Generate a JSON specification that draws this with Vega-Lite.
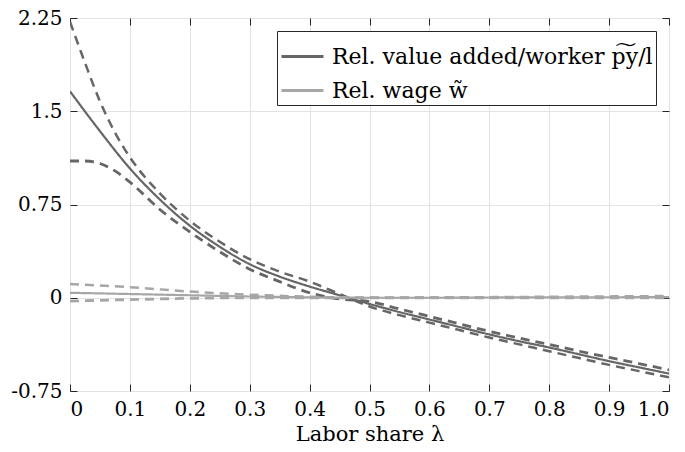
{
  "$schema": "https://vega.github.io/schema/vega-lite/v6.json",
  "width": 599,
  "height": 373,
  "autosize": {"type": "none"},
  "padding": {"left": 70, "top": 18, "right": 16, "bottom": 61},
  "background": "white",
  "config": {
    "font": "DejaVu Serif",
    "view": {"stroke": "#262626", "strokeWidth": 1},
    "axis": {
      "domain": false,
      "tickColor": "#262626",
      "tickSize": -7,
      "tickWidth": 1,
      "labelFont": "DejaVu Serif",
      "labelFontSize": 20,
      "labelColor": "#000000",
      "gridColor": "#e3e3e3",
      "gridWidth": 1,
      "titleFont": "DejaVu Serif",
      "titleFontSize": 21,
      "titleFontWeight": "normal",
      "titleColor": "#000000"
    },
    "legend": {
      "orient": "top-right",
      "offset": 13,
      "fillColor": "white",
      "strokeColor": "#262626",
      "padding": 3,
      "symbolType": "stroke",
      "symbolSize": 1764,
      "symbolStrokeWidth": 3,
      "labelFont": "DejaVu Serif",
      "labelFontSize": 22,
      "labelColor": "#000000",
      "labelOffset": 7,
      "labelLimit": 500,
      "rowPadding": -14
    }
  },
  "datasets": {
    "curves": [
      {"lambda": 0.0, "value": 1.66, "series": "Rel. value added/worker p͠y/l", "case": "baseline"},
      {"lambda": 0.05, "value": 1.34, "series": "Rel. value added/worker p͠y/l", "case": "baseline"},
      {"lambda": 0.1, "value": 1.04, "series": "Rel. value added/worker p͠y/l", "case": "baseline"},
      {"lambda": 0.15, "value": 0.79, "series": "Rel. value added/worker p͠y/l", "case": "baseline"},
      {"lambda": 0.2, "value": 0.58, "series": "Rel. value added/worker p͠y/l", "case": "baseline"},
      {"lambda": 0.25, "value": 0.41, "series": "Rel. value added/worker p͠y/l", "case": "baseline"},
      {"lambda": 0.3, "value": 0.27, "series": "Rel. value added/worker p͠y/l", "case": "baseline"},
      {"lambda": 0.35, "value": 0.17, "series": "Rel. value added/worker p͠y/l", "case": "baseline"},
      {"lambda": 0.4, "value": 0.09, "series": "Rel. value added/worker p͠y/l", "case": "baseline"},
      {"lambda": 0.45, "value": 0.02, "series": "Rel. value added/worker p͠y/l", "case": "baseline"},
      {"lambda": 0.5, "value": -0.05, "series": "Rel. value added/worker p͠y/l", "case": "baseline"},
      {"lambda": 0.55, "value": -0.115, "series": "Rel. value added/worker p͠y/l", "case": "baseline"},
      {"lambda": 0.6, "value": -0.175, "series": "Rel. value added/worker p͠y/l", "case": "baseline"},
      {"lambda": 0.65, "value": -0.235, "series": "Rel. value added/worker p͠y/l", "case": "baseline"},
      {"lambda": 0.7, "value": -0.295, "series": "Rel. value added/worker p͠y/l", "case": "baseline"},
      {"lambda": 0.75, "value": -0.35, "series": "Rel. value added/worker p͠y/l", "case": "baseline"},
      {"lambda": 0.8, "value": -0.4, "series": "Rel. value added/worker p͠y/l", "case": "baseline"},
      {"lambda": 0.85, "value": -0.455, "series": "Rel. value added/worker p͠y/l", "case": "baseline"},
      {"lambda": 0.9, "value": -0.51, "series": "Rel. value added/worker p͠y/l", "case": "baseline"},
      {"lambda": 0.95, "value": -0.56, "series": "Rel. value added/worker p͠y/l", "case": "baseline"},
      {"lambda": 1.0, "value": -0.61, "series": "Rel. value added/worker p͠y/l", "case": "baseline"},

      {"lambda": 0.0, "value": 2.22, "series": "Rel. value added/worker p͠y/l", "case": "upper"},
      {"lambda": 0.025, "value": 1.89, "series": "Rel. value added/worker p͠y/l", "case": "upper"},
      {"lambda": 0.05, "value": 1.58, "series": "Rel. value added/worker p͠y/l", "case": "upper"},
      {"lambda": 0.075, "value": 1.33, "series": "Rel. value added/worker p͠y/l", "case": "upper"},
      {"lambda": 0.1, "value": 1.13, "series": "Rel. value added/worker p͠y/l", "case": "upper"},
      {"lambda": 0.15, "value": 0.84, "series": "Rel. value added/worker p͠y/l", "case": "upper"},
      {"lambda": 0.2, "value": 0.62, "series": "Rel. value added/worker p͠y/l", "case": "upper"},
      {"lambda": 0.25, "value": 0.45, "series": "Rel. value added/worker p͠y/l", "case": "upper"},
      {"lambda": 0.3, "value": 0.31, "series": "Rel. value added/worker p͠y/l", "case": "upper"},
      {"lambda": 0.35, "value": 0.21, "series": "Rel. value added/worker p͠y/l", "case": "upper"},
      {"lambda": 0.4, "value": 0.13, "series": "Rel. value added/worker p͠y/l", "case": "upper"},
      {"lambda": 0.45, "value": 0.03, "series": "Rel. value added/worker p͠y/l", "case": "upper"},
      {"lambda": 0.5, "value": -0.07, "series": "Rel. value added/worker p͠y/l", "case": "upper"},
      {"lambda": 0.55, "value": -0.14, "series": "Rel. value added/worker p͠y/l", "case": "upper"},
      {"lambda": 0.6, "value": -0.2, "series": "Rel. value added/worker p͠y/l", "case": "upper"},
      {"lambda": 0.65, "value": -0.26, "series": "Rel. value added/worker p͠y/l", "case": "upper"},
      {"lambda": 0.7, "value": -0.32, "series": "Rel. value added/worker p͠y/l", "case": "upper"},
      {"lambda": 0.75, "value": -0.375, "series": "Rel. value added/worker p͠y/l", "case": "upper"},
      {"lambda": 0.8, "value": -0.43, "series": "Rel. value added/worker p͠y/l", "case": "upper"},
      {"lambda": 0.85, "value": -0.485, "series": "Rel. value added/worker p͠y/l", "case": "upper"},
      {"lambda": 0.9, "value": -0.54, "series": "Rel. value added/worker p͠y/l", "case": "upper"},
      {"lambda": 0.95, "value": -0.59, "series": "Rel. value added/worker p͠y/l", "case": "upper"},
      {"lambda": 1.0, "value": -0.64, "series": "Rel. value added/worker p͠y/l", "case": "upper"},

      {"lambda": 0.0, "value": 1.1, "series": "Rel. value added/worker p͠y/l", "case": "lower"},
      {"lambda": 0.025, "value": 1.1, "series": "Rel. value added/worker p͠y/l", "case": "lower"},
      {"lambda": 0.05, "value": 1.08, "series": "Rel. value added/worker p͠y/l", "case": "lower"},
      {"lambda": 0.075, "value": 1.02, "series": "Rel. value added/worker p͠y/l", "case": "lower"},
      {"lambda": 0.1, "value": 0.93, "series": "Rel. value added/worker p͠y/l", "case": "lower"},
      {"lambda": 0.15, "value": 0.71, "series": "Rel. value added/worker p͠y/l", "case": "lower"},
      {"lambda": 0.2, "value": 0.53, "series": "Rel. value added/worker p͠y/l", "case": "lower"},
      {"lambda": 0.25, "value": 0.37, "series": "Rel. value added/worker p͠y/l", "case": "lower"},
      {"lambda": 0.3, "value": 0.23, "series": "Rel. value added/worker p͠y/l", "case": "lower"},
      {"lambda": 0.35, "value": 0.13, "series": "Rel. value added/worker p͠y/l", "case": "lower"},
      {"lambda": 0.4, "value": 0.04, "series": "Rel. value added/worker p͠y/l", "case": "lower"},
      {"lambda": 0.45, "value": -0.01, "series": "Rel. value added/worker p͠y/l", "case": "lower"},
      {"lambda": 0.5, "value": -0.03, "series": "Rel. value added/worker p͠y/l", "case": "lower"},
      {"lambda": 0.55, "value": -0.09, "series": "Rel. value added/worker p͠y/l", "case": "lower"},
      {"lambda": 0.6, "value": -0.15, "series": "Rel. value added/worker p͠y/l", "case": "lower"},
      {"lambda": 0.65, "value": -0.21, "series": "Rel. value added/worker p͠y/l", "case": "lower"},
      {"lambda": 0.7, "value": -0.27, "series": "Rel. value added/worker p͠y/l", "case": "lower"},
      {"lambda": 0.75, "value": -0.325, "series": "Rel. value added/worker p͠y/l", "case": "lower"},
      {"lambda": 0.8, "value": -0.375, "series": "Rel. value added/worker p͠y/l", "case": "lower"},
      {"lambda": 0.85, "value": -0.43, "series": "Rel. value added/worker p͠y/l", "case": "lower"},
      {"lambda": 0.9, "value": -0.48, "series": "Rel. value added/worker p͠y/l", "case": "lower"},
      {"lambda": 0.95, "value": -0.53, "series": "Rel. value added/worker p͠y/l", "case": "lower"},
      {"lambda": 1.0, "value": -0.58, "series": "Rel. value added/worker p͠y/l", "case": "lower"},

      {"lambda": 0.0, "value": 0.04, "series": "Rel. wage w̃", "case": "baseline"},
      {"lambda": 0.1, "value": 0.03, "series": "Rel. wage w̃", "case": "baseline"},
      {"lambda": 0.2, "value": 0.02, "series": "Rel. wage w̃", "case": "baseline"},
      {"lambda": 0.3, "value": 0.01, "series": "Rel. wage w̃", "case": "baseline"},
      {"lambda": 0.4, "value": 0.003, "series": "Rel. wage w̃", "case": "baseline"},
      {"lambda": 0.5, "value": 0.0, "series": "Rel. wage w̃", "case": "baseline"},
      {"lambda": 0.6, "value": 0.0, "series": "Rel. wage w̃", "case": "baseline"},
      {"lambda": 0.7, "value": 0.002, "series": "Rel. wage w̃", "case": "baseline"},
      {"lambda": 0.8, "value": 0.003, "series": "Rel. wage w̃", "case": "baseline"},
      {"lambda": 0.9, "value": 0.004, "series": "Rel. wage w̃", "case": "baseline"},
      {"lambda": 1.0, "value": 0.005, "series": "Rel. wage w̃", "case": "baseline"},

      {"lambda": 0.0, "value": 0.11, "series": "Rel. wage w̃", "case": "upper"},
      {"lambda": 0.1, "value": 0.085, "series": "Rel. wage w̃", "case": "upper"},
      {"lambda": 0.2, "value": 0.05, "series": "Rel. wage w̃", "case": "upper"},
      {"lambda": 0.3, "value": 0.025, "series": "Rel. wage w̃", "case": "upper"},
      {"lambda": 0.4, "value": 0.008, "series": "Rel. wage w̃", "case": "upper"},
      {"lambda": 0.5, "value": 0.0, "series": "Rel. wage w̃", "case": "upper"},
      {"lambda": 0.6, "value": 0.002, "series": "Rel. wage w̃", "case": "upper"},
      {"lambda": 0.7, "value": 0.005, "series": "Rel. wage w̃", "case": "upper"},
      {"lambda": 0.8, "value": 0.008, "series": "Rel. wage w̃", "case": "upper"},
      {"lambda": 0.9, "value": 0.011, "series": "Rel. wage w̃", "case": "upper"},
      {"lambda": 1.0, "value": 0.014, "series": "Rel. wage w̃", "case": "upper"},

      {"lambda": 0.0, "value": -0.027, "series": "Rel. wage w̃", "case": "lower"},
      {"lambda": 0.1, "value": -0.015, "series": "Rel. wage w̃", "case": "lower"},
      {"lambda": 0.2, "value": -0.005, "series": "Rel. wage w̃", "case": "lower"},
      {"lambda": 0.3, "value": 0.0, "series": "Rel. wage w̃", "case": "lower"},
      {"lambda": 0.4, "value": 0.0, "series": "Rel. wage w̃", "case": "lower"},
      {"lambda": 0.5, "value": 0.0, "series": "Rel. wage w̃", "case": "lower"},
      {"lambda": 0.6, "value": 0.0, "series": "Rel. wage w̃", "case": "lower"},
      {"lambda": 0.7, "value": 0.0, "series": "Rel. wage w̃", "case": "lower"},
      {"lambda": 0.8, "value": 0.0, "series": "Rel. wage w̃", "case": "lower"},
      {"lambda": 0.9, "value": 0.0, "series": "Rel. wage w̃", "case": "lower"},
      {"lambda": 1.0, "value": 0.0, "series": "Rel. wage w̃", "case": "lower"}
    ]
  },
  "layer": [
    {
      "mark": {"type": "rule", "color": "#000000", "strokeWidth": 1.5},
      "encoding": {
        "x": {
          "datum": 0,
          "type": "quantitative",
          "scale": {"domain": [0, 1], "nice": false, "zero": false},
          "axis": {"orient": "top", "labels": false, "grid": false, "title": null, "values": [0, 0.1, 0.2, 0.3, 0.4, 0.5, 0.6, 0.7, 0.8, 0.9, 1.0]}
        },
        "x2": {"datum": 1},
        "y": {
          "datum": 0,
          "type": "quantitative",
          "scale": {"domain": [-0.75, 2.25], "nice": false, "zero": false},
          "axis": {"orient": "right", "labels": false, "grid": false, "title": null, "values": [-0.75, 0, 0.75, 1.5, 2.25]}
        }
      }
    },
    {
      "data": {"name": "curves"},
      "mark": {"type": "line", "interpolate": "monotone", "clip": true},
      "encoding": {
        "x": {
          "field": "lambda",
          "type": "quantitative",
          "scale": {"domain": [0, 1], "nice": false, "zero": false},
          "axis": {
            "orient": "bottom",
            "title": "Labor share λ",
            "titlePadding": 4,
            "labelPadding": 15,
            "values": [0, 0.1, 0.2, 0.3, 0.4, 0.5, 0.6, 0.7, 0.8, 0.9, 1.0],
            "labelExpr": "datum.value == 1 ? '1.0' : '' + datum.value",
            "grid": true
          }
        },
        "y": {
          "field": "value",
          "type": "quantitative",
          "scale": {"domain": [-0.75, 2.25], "nice": false, "zero": false},
          "axis": {
            "orient": "left",
            "title": null,
            "labelPadding": 15,
            "values": [-0.75, 0, 0.75, 1.5, 2.25],
            "labelExpr": "'' + datum.value",
            "grid": true
          }
        },
        "color": {
          "field": "series",
          "type": "nominal",
          "scale": {
            "domain": ["Rel. value added/worker p͠y/l", "Rel. wage w̃"],
            "range": ["#666666", "#a6a6a6"]
          },
          "legend": {"title": null}
        },
        "strokeDash": {
          "field": "case",
          "type": "nominal",
          "scale": {"domain": ["baseline", "upper", "lower"], "range": [[1, 0], [9, 6], [9, 6]]},
          "legend": null
        },
        "strokeWidth": {
          "field": "case",
          "type": "nominal",
          "scale": {"domain": ["baseline", "upper", "lower"], "range": [2.2, 2.8, 2.8]},
          "legend": null
        }
      }
    }
  ],
  "resolve": {"axis": {"x": "independent", "y": "independent"}}
}
